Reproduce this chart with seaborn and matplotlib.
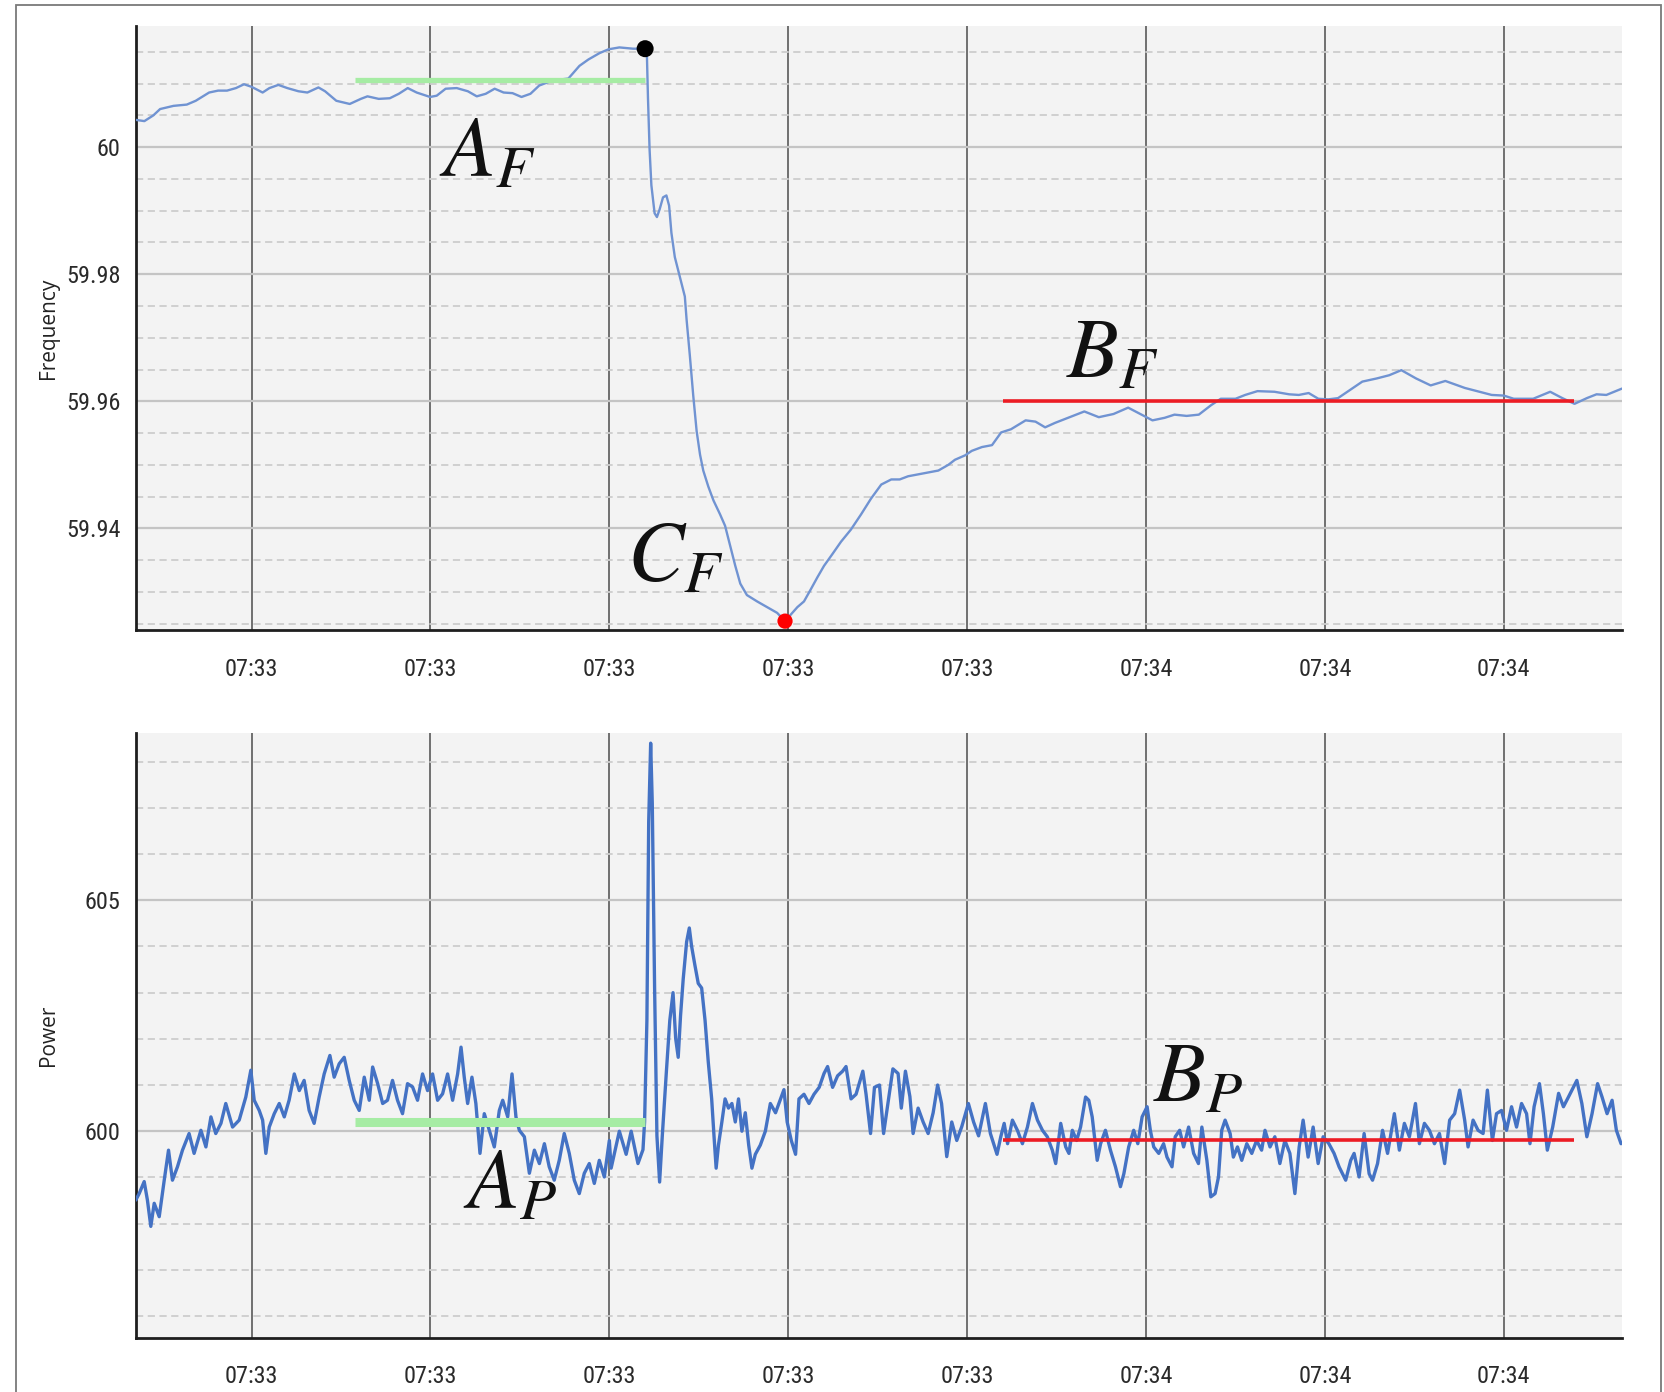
import numpy as np
import pandas as pd
import matplotlib
matplotlib.use("Agg")
import matplotlib.pyplot as plt
import matplotlib.dates as mdates
from matplotlib import font_manager
from matplotlib.ticker import MultipleLocator, FuncFormatter
from matplotlib.patches import Rectangle
import seaborn as sns

# ---------------------------------------------------------------------------
# Data: seconds after 07:33:00 and the measured values
# ---------------------------------------------------------------------------
t0 = pd.Timestamp("2021-01-01 07:33:00")

freq_sec = [
    3.52, 4.01, 4.51, 4.89, 5.64, 6.38, 6.88, 7.63, 8.13, 8.63, 9.13, 9.58,
    10.0, 10.62, 11.0, 11.5, 12.0, 12.62, 13.12, 13.74, 14.11, 14.74, 15.49,
    16.11, 16.48, 17.11, 17.73, 18.23, 18.73, 19.23, 19.98, 20.35, 20.85,
    21.47, 22.09, 22.59, 23.09, 23.59, 24.09, 24.59, 25.09, 25.59, 26.08,
    26.83, 27.71, 28.33, 28.83, 29.45, 29.95, 30.56, 31.32, 32.0, 32.1,
    32.16, 32.25, 32.35, 32.53, 32.66, 32.81, 33.0, 33.19, 33.34, 33.47,
    33.66, 33.94, 34.22, 34.32, 34.5, 34.69, 34.88, 35.07, 35.25, 35.53,
    35.82, 36.19, 36.47, 36.75, 37.04, 37.32, 37.69, 38.26, 38.82, 39.38,
    39.82, 40.13, 40.51, 40.88, 41.26, 41.63, 42.0, 42.48, 42.95, 43.5,
    44.07, 44.63, 45.2, 45.76, 46.23, 46.7, 47.26, 47.82, 48.39, 48.95,
    49.32, 49.89, 50.26, 50.83, 51.39, 51.9, 52.45, 53.27, 53.82, 54.36,
    54.91, 55.73, 56.55, 57.36, 58.18, 59.0, 59.54, 60.36, 61.04, 61.59,
    62.27, 62.95, 63.64, 64.18, 65.0, 65.54, 66.23, 67.18, 68.0, 68.54,
    69.09, 69.63, 70.18, 70.73, 71.41, 72.09, 72.9, 73.59, 74.27, 75.09,
    75.91, 76.73, 77.82, 78.64, 79.32, 80.0, 80.55, 81.64, 82.59, 83.27,
    83.95, 84.64, 85.18, 85.73, 86.6,
]
freq_hz = [
    60.0043, 60.0041, 60.0050, 60.0060, 60.0065, 60.0067, 60.0073, 60.0086,
    60.0089, 60.0089, 60.0093, 60.0099, 60.0095, 60.0086, 60.0093, 60.0098,
    60.0093, 60.0088, 60.0086, 60.0094, 60.0088, 60.0073, 60.0068, 60.0076,
    60.0080, 60.0076, 60.0077, 60.0084, 60.0093, 60.0086, 60.0079, 60.0081,
    60.0092, 60.0093, 60.0088, 60.0080, 60.0084, 60.0092, 60.0086, 60.0085,
    60.0079, 60.0084, 60.0097, 60.0105, 60.0108, 60.0128, 60.0138, 60.0148,
    60.0154, 60.0157, 60.0155, 60.0155, 60.0145, 60.0077, 59.9996, 59.9940,
    59.9896, 59.9890, 59.9902, 59.9921, 59.9924, 59.9908, 59.9865, 59.9827,
    59.9796, 59.9765, 59.9728, 59.9672, 59.9609, 59.9553, 59.9516, 59.9491,
    59.9466, 59.9444, 59.9422, 59.9404, 59.9373, 59.9341, 59.9313, 59.9295,
    59.9285, 59.9276, 59.9267, 59.9254, 59.9264, 59.9276, 59.9285, 59.9304,
    59.9323, 59.9341, 59.9360, 59.9379, 59.9398, 59.9422, 59.9447, 59.9469,
    59.9477, 59.9477, 59.9482, 59.9485, 59.9488, 59.9491, 59.9500, 59.9508,
    59.9515, 59.9522, 59.9528, 59.9531, 59.9551, 59.9556, 59.9570, 59.9568,
    59.9559, 59.9566, 59.9575, 59.9584, 59.9575, 59.9580, 59.9590, 59.9582,
    59.9570, 59.9574, 59.9579, 59.9577, 59.9579, 59.9594, 59.9604, 59.9604,
    59.9610, 59.9616, 59.9615, 59.9611, 59.9610, 59.9613, 59.9604, 59.9603,
    59.9605, 59.9618, 59.9631, 59.9636, 59.9641, 59.9649, 59.9636, 59.9625,
    59.9632, 59.9621, 59.9615, 59.9610, 59.9609, 59.9604, 59.9604, 59.9615,
    59.9605, 59.9596, 59.9605, 59.9611, 59.9610, 59.9620,
]

power_sec = [
    3.53, 3.72, 4.00, 4.18, 4.37, 4.56, 4.84, 5.12, 5.36, 5.58, 5.86, 6.14,
    6.51, 6.79, 7.17, 7.45, 7.73, 8.00, 8.29, 8.56, 8.94, 9.31, 9.68, 9.96,
    10.15, 10.43, 10.62, 10.80, 10.99, 11.27, 11.55, 11.83, 12.10, 12.39,
    12.67, 12.94, 13.22, 13.50, 13.78, 14.06, 14.38, 14.62, 14.90, 15.18,
    15.46, 15.74, 16.02, 16.30, 16.58, 16.77, 17.05, 17.33, 17.60, 17.88,
    18.16, 18.44, 18.72, 19.00, 19.28, 19.56, 19.84, 20.12, 20.40, 20.68,
    20.96, 21.24, 21.52, 21.71, 21.89, 22.08, 22.32, 22.54, 22.77, 23.01,
    23.29, 23.57, 23.85, 24.04, 24.32, 24.56, 24.78, 24.97, 25.25, 25.53,
    25.81, 26.09, 26.37, 26.64, 26.92, 27.20, 27.48, 27.76, 28.04, 28.32,
    28.60, 28.88, 29.16, 29.44, 29.72, 30.00, 30.10, 30.56, 30.94, 31.22,
    31.60, 31.88, 31.97, 32.10, 32.20, 32.31, 32.40, 32.53, 32.66, 32.81,
    32.96, 33.19, 33.38, 33.56, 33.71, 33.85, 33.98, 34.13, 34.32, 34.47,
    34.60, 34.78, 34.97, 35.16, 35.35, 35.53, 35.72, 35.85, 35.97, 36.10,
    36.29, 36.47, 36.66, 36.85, 37.04, 37.22, 37.41, 37.60, 37.79, 37.97,
    38.16, 38.44, 38.72, 39.00, 39.29, 39.57, 39.76, 39.94, 40.17, 40.41,
    40.60, 40.88, 41.16, 41.44, 41.73, 42.00, 42.20, 42.48, 42.76, 43.04,
    43.23, 43.51, 43.79, 44.17, 44.35, 44.60, 44.82, 45.10, 45.33, 45.57,
    45.85, 46.14, 46.32, 46.55, 46.80, 46.98, 47.26, 47.54, 47.82, 48.10,
    48.35, 48.57, 48.86, 49.14, 49.42, 49.70, 50.07, 50.36, 50.64, 51.02,
    51.30, 51.67, 51.88, 52.07, 52.26, 52.53, 52.81, 53.09, 53.37, 53.65,
    53.93, 54.21, 54.48, 54.76, 54.95, 55.23, 55.51, 55.69, 55.88, 56.12,
    56.34, 56.62, 56.80, 56.99, 57.27, 57.46, 57.73, 58.01, 58.29, 58.57,
    58.76, 59.03, 59.31, 59.54, 59.78, 60.06, 60.24, 60.43, 60.71, 60.98,
    61.17, 61.45, 61.63, 61.88, 62.10, 62.38, 62.66, 62.93, 63.12, 63.40,
    63.62, 63.86, 64.05, 64.23, 64.42, 64.70, 64.88, 65.11, 65.35, 65.63,
    65.91, 66.18, 66.46, 66.65, 66.93, 67.20, 67.48, 67.76, 68.04, 68.32,
    68.56, 68.78, 69.06, 69.34, 69.62, 69.90, 70.22, 70.51, 70.79, 71.16,
    71.44, 71.63, 71.91, 72.19, 72.47, 72.66, 72.94, 73.22, 73.50, 73.88,
    74.16, 74.44, 74.72, 75.06, 75.28, 75.56, 75.84, 76.12, 76.40, 76.69,
    76.97, 77.25, 77.53, 77.81, 78.00, 78.28, 78.56, 78.84, 79.08, 79.36,
    79.59, 79.87, 80.15, 80.43, 80.71, 80.99, 81.27, 81.46, 81.69, 81.99,
    82.21, 82.43, 82.73, 83.06, 83.33, 83.61, 84.08, 84.36, 84.64, 84.93,
    85.24, 85.49, 85.77, 86.05, 86.29, 86.55,
]
power_mw = [
    598.51, 598.65, 598.91, 598.51, 597.94, 598.44, 598.15, 598.94, 599.59,
    598.94, 599.23, 599.59, 599.95, 599.52, 600.02, 599.66, 600.31, 599.95,
    600.17, 600.60, 600.09, 600.24, 600.74, 601.32, 600.67, 600.45, 600.24,
    599.52, 600.09, 600.38, 600.60, 600.31, 600.67, 601.24, 600.88, 601.10,
    600.45, 600.17, 600.74, 601.24, 601.64, 601.17, 601.46, 601.60, 601.10,
    600.67, 600.45, 601.17, 600.67, 601.39, 601.03, 600.60, 600.67, 601.10,
    600.67, 600.38, 601.03, 600.96, 600.67, 601.24, 600.88, 601.24, 600.67,
    600.81, 601.24, 600.67, 601.24, 601.82, 601.17, 600.60, 601.17, 600.60,
    599.52, 600.38, 600.02, 599.66, 600.45, 600.67, 600.31, 601.24, 600.31,
    600.02, 599.88, 599.09, 599.59, 599.30, 599.73, 599.23, 598.94, 599.37,
    599.95, 599.52, 598.94, 598.65, 599.09, 599.30, 598.87, 599.37, 599.01,
    599.80, 599.20, 600.00, 599.50, 600.00, 599.30, 599.60, 600.20, 602.40,
    606.70, 608.40, 607.10, 603.10, 599.90, 598.90, 599.90, 601.30, 602.40,
    603.00, 602.00, 601.60, 602.50, 603.30, 604.10, 604.40, 604.00, 603.60,
    603.20, 603.10, 602.40, 601.50, 600.70, 599.90, 599.20, 599.70, 600.20,
    600.70, 600.50, 600.60, 600.20, 600.70, 600.00, 600.40, 599.70, 599.20,
    599.50, 599.70, 600.00, 600.60, 600.40, 600.70, 600.90, 600.20, 599.80,
    599.50, 600.70, 600.80, 600.60, 600.80, 600.95, 601.25, 601.40, 600.95,
    601.20, 601.30, 601.40, 600.70, 600.80, 601.30, 600.80, 599.95, 600.95,
    601.00, 599.95, 600.60, 601.35, 601.25, 600.50, 601.30, 600.75, 599.95,
    600.50, 600.20, 599.95, 600.40, 601.00, 600.60, 599.45, 600.20, 599.80,
    600.10, 600.60, 600.20, 599.90, 600.60, 599.95, 599.50, 599.88, 600.17,
    599.73, 600.24, 600.02, 599.73, 600.09, 600.60, 600.24, 600.02, 599.88,
    599.59, 599.30, 600.17, 599.66, 599.52, 600.02, 599.80, 600.09, 600.74,
    600.67, 600.31, 599.37, 599.73, 600.02, 599.59, 599.23, 598.80, 599.08,
    599.66, 600.02, 599.73, 600.31, 600.53, 600.02, 599.66, 599.52, 599.73,
    599.44, 599.23, 599.88, 600.02, 599.66, 600.09, 599.52, 599.30, 600.09,
    599.37, 598.58, 598.65, 599.01, 600.02, 600.24, 599.95, 599.44, 599.66,
    599.37, 599.73, 599.52, 599.80, 599.59, 600.02, 599.66, 599.88, 599.30,
    599.80, 599.52, 598.65, 599.66, 600.24, 599.44, 600.09, 599.30, 599.88,
    599.73, 599.52, 599.23, 598.94, 599.37, 599.52, 599.01, 599.95, 599.08,
    598.94, 599.30, 600.02, 599.52, 600.38, 599.59, 600.17, 599.88, 600.60,
    599.73, 600.17, 600.02, 599.73, 599.95, 599.30, 600.24, 600.38, 600.89,
    600.24, 599.66, 600.24, 600.02, 599.95, 600.89, 599.80, 600.38, 600.45,
    600.02, 600.53, 600.09, 600.60, 600.38, 599.73, 600.53, 601.03, 600.38,
    599.59, 600.09, 600.82, 600.53, 600.74, 601.10, 600.60, 599.88, 600.38,
    601.03, 600.74, 600.38, 600.67, 600.02, 599.73,
]

# Steady-state levels before (A) and after (B) the event, with their spans
a_f_level, a_f_span = 60.0105, (15.8, 32.0)
b_f_level, b_f_span = 59.960, (52.0, 83.9)
a_p_level, a_p_span = 600.2, (15.8, 32.0)
b_p_level, b_p_span = 599.8, (52.0, 83.9)

# Highlighted frequency points: last value before the drop and the nadir
peak_sec, peak_hz = 32.0, 60.0155
nadir_sec, nadir_hz = 39.82, 59.9254

x_range = (3.53, 86.58)
tick_secs = [10, 20, 30, 40, 50, 60, 70, 80]
freq_ylim = (59.924, 60.019)
power_ylim = (595.53, 608.62)


def to_time(secs):
    return t0 + pd.to_timedelta(np.asarray(secs, dtype=float), unit="s")


def to_num(sec):
    return mdates.date2num(to_time([sec])[0])


# ---------------------------------------------------------------------------
# Style
# ---------------------------------------------------------------------------
sns.set_style("white")
plt.rcParams["mathtext.fontset"] = "stix"
installed = {f.name for f in font_manager.fontManager.ttflist}
narrow_choices = ["Liberation Sans Narrow", "Roboto Condensed",
                  "Noto Sans Condensed", "Open Sans Condensed",
                  "Noto Sans SemiCondensed"]
narrow = [n for n in narrow_choices if n in installed]
if narrow:
    tick_family, tick_size = [narrow[0], "DejaVu Sans"], 17.5
else:
    tick_family, tick_size = ["Roboto", "DejaVu Sans"], 16
label_family = ["Open Sans", "DejaVu Sans"]

bg = "#f3f3f3"
freq_color = "#7093d2"
power_color = "#4472c4"
green = "#a6eca4"
red = "#ec1c24"

fig = plt.figure(figsize=(16.64, 13.92), dpi=100)
fig.patch.set_facecolor("white")

# thin frame around the whole figure
fig.patches.append(Rectangle((16 / 1664, -0.02), 1645 / 1664, 1.02 - 5 / 1392,
                             transform=fig.transFigure, fill=False,
                             edgecolor="#7a7a7a", linewidth=1.3, zorder=0))

ax1 = fig.add_axes([0.0816, 0.5474, 0.8929, 0.4336])
ax2 = fig.add_axes([0.0816, 0.0390, 0.8929, 0.4344])

df_freq = pd.DataFrame({"time": to_time(freq_sec), "Frequency": freq_hz})
df_power = pd.DataFrame({"time": to_time(power_sec), "Power": power_mw})

sns.lineplot(data=df_freq, x="time", y="Frequency", ax=ax1, color=freq_color,
             linewidth=1.7, estimator=None, zorder=3)
sns.lineplot(data=df_power, x="time", y="Power", ax=ax2, color=power_color,
             linewidth=2.4, estimator=None, zorder=3)

# steady-state reference levels
ax1.hlines(a_f_level, to_time([a_f_span[0]])[0], to_time([a_f_span[1]])[0],
           color=green, linewidth=3.8, zorder=4)
ax1.hlines(b_f_level, to_time([b_f_span[0]])[0], to_time([b_f_span[1]])[0],
           color=red, linewidth=2.6, zorder=4)
ax2.hlines(a_p_level, to_time([a_p_span[0]])[0], to_time([a_p_span[1]])[0],
           color=green, linewidth=6.5, zorder=4)
ax2.hlines(b_p_level, to_time([b_p_span[0]])[0], to_time([b_p_span[1]])[0],
           color=red, linewidth=2.6, zorder=4)

sns.scatterplot(x=to_time([peak_sec]), y=[peak_hz], ax=ax1, color="black",
                s=150, edgecolor="none", zorder=5)
sns.scatterplot(x=to_time([nadir_sec]), y=[nadir_hz], ax=ax1, color="#ff0000",
                s=120, edgecolor="none", zorder=5)

# annotation letters
math_kw = dict(fontsize=61, color="#111111", ha="left", va="baseline", zorder=6)
ax1.text(to_num(20.5), 59.9954, r"$A_F$", **math_kw)
ax1.text(to_num(55.5), 59.9637, r"$B_F$", **math_kw)
ax1.text(to_num(31.0), 59.9316, r"$C_F$", **math_kw)
ax2.text(to_num(21.8), 598.34, r"$A_P$", **math_kw)
ax2.text(to_num(60.4), 600.66, r"$B_P$", **math_kw)

# ---------------------------------------------------------------------------
# Axes cosmetics
# ---------------------------------------------------------------------------
for ax, ylim, major, minor, label in (
    (ax1, freq_ylim, 0.02, 0.005, "Frequency"),
    (ax2, power_ylim, 5, 1, "Power"),
):
    ax.set_facecolor(bg)
    ax.set_xlim(to_time([x_range[0]])[0], to_time([x_range[1]])[0])
    ax.set_ylim(*ylim)
    ax.set_xticks(to_time(tick_secs))
    ax.xaxis.set_major_formatter(mdates.DateFormatter("%H:%M"))
    ax.yaxis.set_major_locator(MultipleLocator(major))
    ax.yaxis.set_minor_locator(MultipleLocator(minor))
    ax.yaxis.set_major_formatter(FuncFormatter(lambda v, p: f"{v:g}"))
    ax.set_axisbelow(True)

    ax.grid(True, which="major", axis="x", color="#6f6f6f", linewidth=1.4)
    ax.grid(True, which="major", axis="y", color="#c4c4c4", linewidth=1.6)
    ax.grid(True, which="minor", axis="y", color="#cdcdcd", linewidth=1.3,
            linestyle=(0, (4, 2.5)))

    for side in ("top", "right"):
        ax.spines[side].set_visible(False)
    for side in ("left", "bottom"):
        ax.spines[side].set_color("#1e1e1e")
        ax.spines[side].set_linewidth(2.0)

    ax.tick_params(axis="x", which="major", direction="out", length=10,
                   width=1.6, color="#333333", pad=10)
    ax.tick_params(axis="y", which="major", direction="out", length=9,
                   width=1.6, color="#333333", pad=2)
    ax.tick_params(axis="y", which="minor", direction="out", length=5,
                   width=2.0, color="#333333")
    for t in ax.get_xticklabels() + ax.get_yticklabels():
        t.set_family(tick_family)
        t.set_fontsize(tick_size)
        t.set_color("#2a2a2a")

    ax.set_xlabel("")
    ax.set_ylabel(label, family=label_family, fontsize=15, color="#222222")
    ax.yaxis.set_label_coords(-0.052, 0.5)

fig.savefig("out.png", dpi=100, facecolor="white")
